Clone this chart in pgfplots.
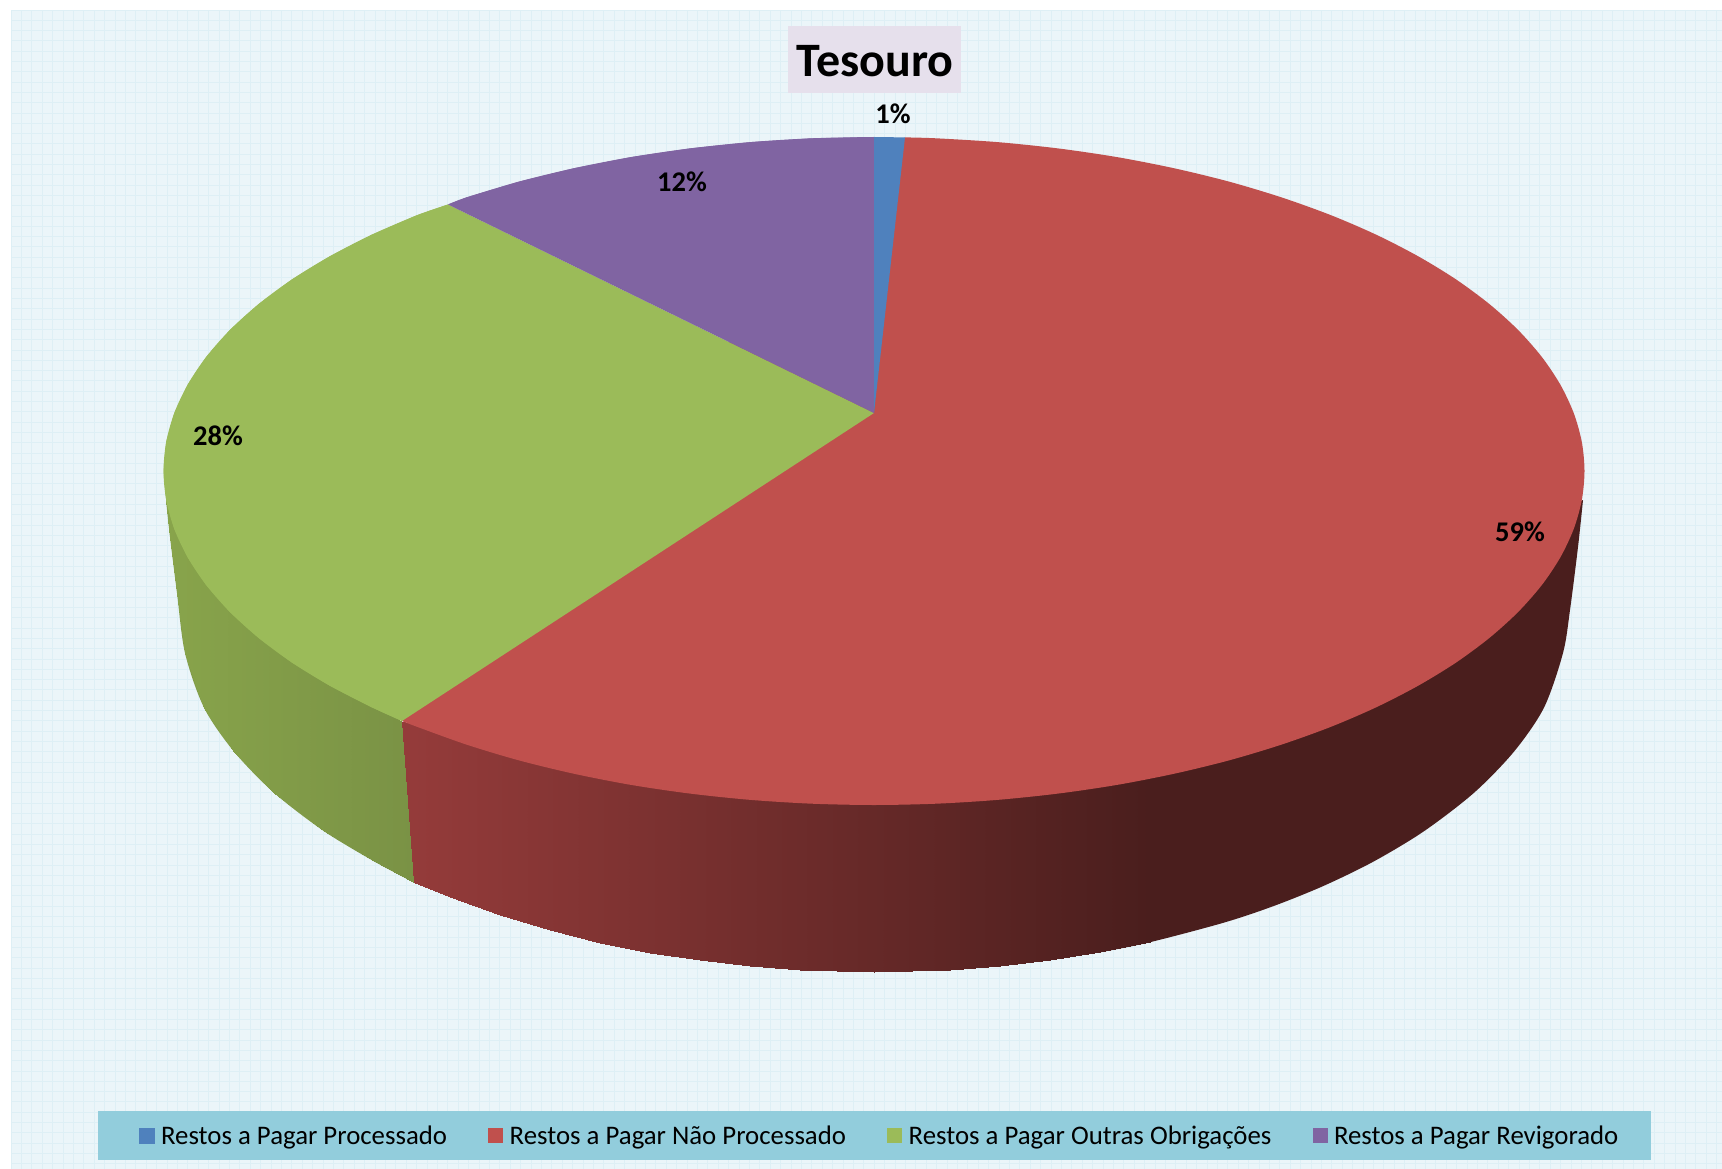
\documentclass[border=0pt]{standalone}
\usepackage{pgfplots}
\pgfplotsset{compat=1.18}
\usepgfplotslibrary{patchplots}
\usepackage{fontspec}
\setmainfont{Carlito}
\definecolor{bgc}{HTML}{EBF5F9}
\definecolor{gridc}{HTML}{DEEFF5}
\definecolor{legc}{HTML}{92CDDC}
\definecolor{titc}{HTML}{E6E0EC}
\definecolor{sblue}{HTML}{4F81BD}
\definecolor{sred}{HTML}{C0504D}
\definecolor{sgreen}{HTML}{9BBB59}
\definecolor{spurple}{HTML}{8064A2}
\definecolor{sdark}{HTML}{4A1E1D}
\definecolor{sgreenside}{HTML}{829D49}
\begin{document}
\begin{tikzpicture}
\path[use as bounding box] (-11pt,0pt) rectangle (1711pt,1169pt);
\begin{axis}[
  scale only axis, width=1711pt, height=1159pt,
  xmin=11, xmax=1722, ymin=10, ymax=1169, y dir=reverse,
  axis line style={draw=none}, major tick length=0pt,
  xtick={11,21.4,...,1722}, ytick={10,20.3,...,1169},
  xticklabels={}, yticklabels={},
  grid=major, grid style={gridc, line width=0.8pt},
  axis background/.style={fill=bgc},
  clip=false,
  point meta min=166, point meta max=1150,
  legend columns=4,
  legend cell align=left,
  legend image code/.code={\path (18.5pt,0pt); \fill[#1] (0pt,-7.5pt) rectangle (15pt,7.5pt);},
  legend style={at={(0.05085,0.05004)}, anchor=north west, draw=none, fill=legc,
    font=\fontsize{26.8}{30}\selectfont, inner xsep=30pt, inner ysep=11.5pt,
    /tikz/every even column/.append style={column sep=38.2pt},
    nodes={inner sep=3pt}},
]
% flat dark part of the red side
\addplot[forget plot, fill=sdark, draw=none] coordinates {(1100,780) (1583,500) (1500,700) (1300,860) (1100,940)} -- cycle;
\addplot[forget plot, fill=sdark, draw=none, smooth] coordinates {
(1583,500) (1578,547) (1570,610) (1563,653) (1544,707.6)
(1514,751.6) (1474,792.8) (1424,831.2) (1374,861.3) (1324,885.7) (1274,905.9)
(1224,922.6) (1150,942.2) (1100,952.3)};
% side of the red slice, shaded
\addplot[forget plot, patch, patch type=rectangle, shader=interp, point meta=x,
  colormap={rs}{rgb255(166)=(148,59,58) rgb255(413)=(148,59,58) rgb255(1150)=(74,30,29)}] table {
x y
401 721
450 735
450 896.7
413 882
450 735
500 751
500 915
450 896.7
500 751
550 764.3
550 930.2
500 915
550 764.3
600 775.2
600 942.6
550 930.2
600 775.2
650 784
650 952.6
600 942.6
650 784
700 790.8
700 960.4
650 952.6
700 790.8
750 795.9
750 966.2
700 960.4
750 795.9
800 799.2
800 969.9
750 966.2
800 799.2
874 801
874 972
800 969.9
874 801
950 799.1
950 969.8
874 972
950 799.1
1000 795.7
1000 966
950 969.8
1000 795.7
1050 790.6
1050 960.2
1000 966
1050 790.6
1100 783.7
1100 952.3
1050 960.2
1100 783.7
1150 774.8
1150 942.2
1100 952.3
};
% side of the green slice: smooth outer edge, then the shading
\addplot[forget plot, fill=sgreenside, draw=none, smooth] coordinates {
(166,500) (170,537) (177,593) (185,653) (204,707.6) (234,751.6) (274,792.8)
(324,831.2) (374,861.3) (413,882)};
\addplot[forget plot, patch, patch type=rectangle, shader=interp, point meta=x,
  colormap={gs}{rgb255(166)=(136,164,75) rgb255(413)=(122,146,69) rgb255(1150)=(122,146,69)}] table {
x y
166 497
170 512
170 537
166 500
170 512
177 532
177 593
170 537
177 532
185 548.5
185 653
177 593
185 548.5
204 578
204 707.6
185 653
204 578
234 612
234 751.6
204 707.6
234 612
274 646
274 792.8
234 751.6
274 646
324 678.5
324 831.2
274 792.8
324 678.5
374 704.3
374 861.3
324 831.2
374 704.3
401 721
413 882
374 861.3
};
% top faces
\addplot[forget plot, fill=sred, draw=none, smooth] coordinates {
(905,137.4) (936,138.3) (997.3,142.1) (1057.9,148.4) (1117,157.1) (1174.3,168.3)
(1229.3,181.7) (1281.5,197.4) (1330.7,215.1) (1376.4,234.8) (1418.2,256.3) (1456,279.4)
(1489.3,304) (1517.9,329.8) (1541.7,356.8) (1560.3,384.6) (1573.7,413) (1581.8,441.9)
(1584.5,471) (1581.8,500.1) (1573.7,529) (1560.3,557.4) (1541.7,585.2) (1517.9,612.2)
(1489.3,638) (1456,662.6) (1418.2,685.7) (1376.4,707.2) (1330.7,726.9) (1281.5,744.6)
(1229.3,760.3) (1174.3,773.7) (1117,784.9) (1057.9,793.6) (997.3,799.9) (936,803.7)
(874,805) (812,803.7) (750.7,799.9) (690.1,793.6) (631,784.9) (573.7,773.7)
(518.7,760.3) (466.5,744.6) (417.3,726.9) (402,721)};
\addplot[forget plot, fill=sgreen, draw=none, smooth] coordinates {
(402,721) (371.6,707.2) (329.8,685.7) (292,662.6) (258.7,638) (230.1,612.2)
(206.3,585.2) (187.7,557.4) (174.3,529) (166.2,500.1) (163.5,471) (166.2,441.9)
(174.3,413) (187.7,384.6) (206.3,356.8) (230.1,329.8) (258.7,304) (292,279.4)
(329.8,256.3) (371.6,234.8) (417.3,215.1) (448,204.5)};
\addplot[forget plot, fill=sgreen, draw=none] coordinates {
(874,413) (402,721) (371.6,707.2) (329.8,685.7) (292,662.6) (258.7,638) (230.1,612.2)
(206.3,585.2) (187.7,557.4) (174.3,529) (166.2,500.1) (163.5,471) (166.2,441.9)
(174.3,413) (187.7,384.6) (206.3,356.8) (230.1,329.8) (258.7,304) (292,279.4)
(329.8,256.3) (371.6,234.8) (417.3,215.1) (448,204.5)} -- cycle;
\addplot[forget plot, fill=spurple, draw=none, smooth] coordinates {
(448,204.5) (466.5,197.4) (518.7,181.7) (573.7,168.3) (631,157.1)
(690.1,148.4) (750.7,142.1) (812,138.3) (874,137)};
\addplot[forget plot, fill=spurple, draw=none] coordinates {
(874,413) (448,204.5) (466.5,197.4) (518.7,181.7) (573.7,168.3) (631,157.1)
(690.1,148.4) (750.7,142.1) (812,138.3) (874,137)} -- cycle;
\addplot[forget plot, fill=sblue, draw=none] coordinates {(874,413) (874,137) (905,137.4)} -- cycle;
% legend
\addlegendimage{legend image code/.code={\path (-11pt,0pt); \path (18.5pt,0pt); \fill[sblue] (0pt,-7.5pt) rectangle (15pt,7.5pt);}}
\addlegendentry{Restos a Pagar Processado}
\addlegendimage{fill=sred, draw=none}
\addlegendentry{Restos a Pagar Não Processado}
\addlegendimage{fill=sgreen, draw=none}
\addlegendentry{Restos a Pagar Outras Obrigações}
\addlegendimage{fill=spurple, draw=none}
\addlegendentry{Restos a Pagar Revigorado}
% title and labels
\node[fill=titc, minimum width=173pt, minimum height=67pt, inner sep=0pt] at (axis cs:874.5,59.5) {};
\node[anchor=base, inner sep=0pt] at (axis cs:875,76.5) {\fontsize{48}{48}\selectfont\bfseries Tesouro};
\node[anchor=base, inner sep=0pt] at (axis cs:893,124) {\fontsize{28.5}{29}\selectfont\bfseries 1\%};
\node[anchor=base, inner sep=0pt] at (axis cs:682,192) {\fontsize{28.5}{29}\selectfont\bfseries 12\%};
\node[anchor=base, inner sep=0pt] at (axis cs:218,445.5) {\fontsize{28.5}{29}\selectfont\bfseries 28\%};
\node[anchor=base, inner sep=0pt] at (axis cs:1520,541.5) {\fontsize{28.5}{29}\selectfont\bfseries 59\%};
\end{axis}
\end{tikzpicture}
\end{document}
